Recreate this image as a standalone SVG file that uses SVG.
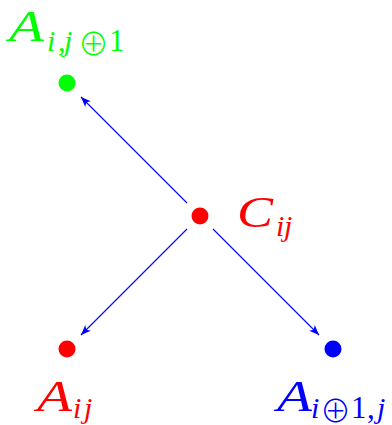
<svg xmlns="http://www.w3.org/2000/svg" width="392" height="425" viewBox="0 0 392 425">
<defs>
<marker id="ah" markerWidth="12" markerHeight="10" refX="10" refY="4" orient="auto" markerUnits="userSpaceOnUse">
<path d="M0,0 L10,4 L0,8 L2.5,4 Z" fill="#0000ff"/>
</marker>
<style>
.big{font-family:"Liberation Serif","DejaVu Serif",serif;font-style:italic;font-size:44px}
.sub{font-family:"Liberation Serif","DejaVu Serif",serif;font-style:italic;font-size:30px}
.num{font-family:"Liberation Serif","DejaVu Serif",serif;font-style:normal;font-size:31px}
.op{font-family:"Noto Sans CJK JP","DejaVu Sans",sans-serif;font-style:normal;font-weight:300;font-size:31px}
.edge{stroke:#0000ff;stroke-width:1.1;fill:none;marker-end:url(#ah)}
</style>
</defs>
<rect width="392" height="425" fill="#ffffff"/>
<g id="connectors">
<line class="edge" x1="187" y1="203" x2="81" y2="97"/>
<line class="edge" x1="187" y1="229" x2="81" y2="335"/>
<line class="edge" x1="213" y1="229" x2="319" y2="335"/>
</g>
<g id="A_ij1" fill="#00ff00">
<circle cx="67" cy="83" r="8.5"/>
<text class="big" x="9" y="41" textLength="35" lengthAdjust="spacingAndGlyphs">A</text>
<text class="sub" x="47 58 64" y="51">i,j</text>
<text class="op" x="78" y="55">⊕</text>
<text class="num" x="109" y="51">1</text>
</g>
<g id="C_ij" fill="#ff0000">
<circle cx="200" cy="216" r="8.5"/>
<text class="big" x="237" y="227" textLength="36" lengthAdjust="spacingAndGlyphs">C</text>
<text class="sub" x="276 284" y="236">ij</text>
</g>
<g id="A_ij" fill="#ff0000">
<circle cx="67" cy="349" r="8.5"/>
<text class="big" x="37" y="411" textLength="35" lengthAdjust="spacingAndGlyphs">A</text>
<text class="sub" x="73 84" y="418">ij</text>
</g>
<g id="A_i1j" fill="#0000ff">
<circle cx="333" cy="349" r="8.5"/>
<text class="big" x="277" y="411" textLength="35" lengthAdjust="spacingAndGlyphs">A</text>
<text class="sub" x="311" y="418">i</text>
<text class="op" x="320" y="422">⊕</text>
<text class="num" x="351 367" y="418">1,</text>
<text class="sub" x="377" y="418">j</text>
</g>
</svg>
